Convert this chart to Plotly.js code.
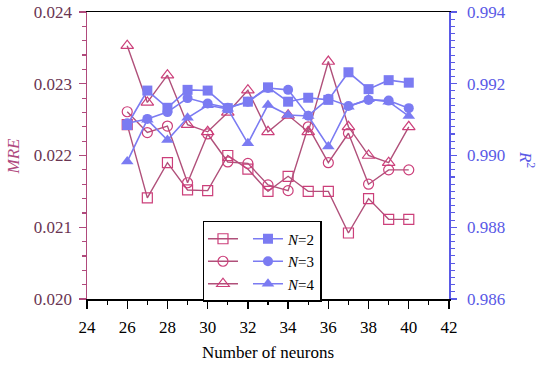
<!DOCTYPE html>
<html>
<head>
<meta charset="utf-8">
<script src="https://cdn.plot.ly/plotly-3.0.1.min.js"></script>
<style>html,body{margin:0;padding:0;background:#fff;}#chart{width:550px;height:366px;}</style>
</head>
<body>
<div id="chart"></div>
<script>
var neurons = [26, 27, 28, 29, 30, 31, 32, 33, 34, 35, 36, 37, 38, 39, 40];

var mreN2 = [0.02243, 0.02141, 0.0219, 0.02152, 0.02151, 0.0220, 0.02181, 0.0215, 0.02171, 0.0215, 0.0215, 0.02092, 0.0214, 0.02111, 0.02111];
var mreN3 = [0.02261, 0.02232, 0.02241, 0.02162, 0.0223, 0.02191, 0.02189, 0.02159, 0.02151, 0.0224, 0.0219, 0.02231, 0.0216, 0.0218, 0.0218];
var mreN4 = [0.02353, 0.02274, 0.02312, 0.02243, 0.02233, 0.0226, 0.02291, 0.02233, 0.02256, 0.02233, 0.02331, 0.0224, 0.0220, 0.0219, 0.0224];

var r2N2 = [0.99085, 0.99181, 0.99133, 0.99183, 0.99181, 0.99132, 0.9915, 0.9919, 0.9915, 0.99161, 0.99155, 0.99232, 0.99185, 0.9921, 0.99203];
var r2N3 = [0.9909, 0.99102, 0.99121, 0.9916, 0.99145, 0.99133, 0.9915, 0.99188, 0.99183, 0.99111, 0.99158, 0.99138, 0.99155, 0.99153, 0.99132];
var r2N4 = [0.98983, 0.991, 0.99043, 0.99105, 0.9914, 0.9913, 0.99034, 0.99141, 0.99113, 0.9911, 0.99025, 0.99136, 0.99157, 0.9915, 0.9911];

var seriesLabels = ['<i>N</i>=2', '<i>N</i>=3', '<i>N</i>=4'];

var pinkLine = '#b0507a';
var pinkMarker = '#cc3f7a';
var blue = '#7b7bf2';
var FONT = 'Liberation Serif, Times New Roman, Times, serif';

var mreSets = [mreN2, mreN3, mreN4];
var r2Sets = [r2N2, r2N3, r2N4];
var openSyms = ['square-open', 'circle-open', 'triangle-up-open'];
var fillSyms = ['square', 'circle', 'triangle-up'];
var sizes = [10, 10, 11];

var traces = [];
for (var i = 0; i < 3; i++) {
  traces.push({
    x: neurons, y: mreSets[i], xaxis: 'x', yaxis: 'y',
    type: 'scatter', mode: 'lines+markers',
    name: '', legendgroup: 'mre',
    line: {color: pinkLine, width: 1.4},
    marker: {symbol: openSyms[i], size: sizes[i], color: pinkMarker, line: {width: 1.2, color: pinkMarker}}
  });
}
for (var j = 0; j < 3; j++) {
  traces.push({
    x: neurons, y: r2Sets[j], xaxis: 'x', yaxis: 'y2',
    type: 'scatter', mode: 'lines+markers',
    name: seriesLabels[j], legendgroup: 'r2',
    line: {color: blue, width: 1.6},
    marker: {symbol: fillSyms[j], size: sizes[j], color: blue}
  });
}

var layout = {
  width: 550, height: 366,
  margin: {l: 87, r: 101, t: 12, b: 67},
  paper_bgcolor: '#fff', plot_bgcolor: '#fff',
  font: {family: FONT, size: 16, color: '#000'},
  showlegend: true,
  legend: {
    orientation: 'h', traceorder: 'grouped', tracegroupgap: 0,
    x: 0.3204, y: 0.2718, xanchor: 'left', yanchor: 'top',
    bgcolor: '#fff', bordercolor: '#000', borderwidth: 1.5,
    font: {family: FONT, size: 15, color: '#000'},
    itemwidth: 30
  },
  xaxis: {
    range: [24, 42], dtick: 2, tick0: 24,
    showgrid: false, zeroline: false,
    showline: true, linecolor: '#000', linewidth: 1.5, mirror: true,
    ticks: 'outside', ticklen: 8, tickwidth: 1.3, tickcolor: '#000',
    ticklabelstandoff: 4,
    minor: {dtick: 1, ticks: 'outside', ticklen: 4, tickwidth: 1.2, tickcolor: '#000', showgrid: false},
    tickfont: {family: FONT, size: 17, color: '#000'},
    title: {text: 'Number of neurons', font: {family: FONT, size: 17, color: '#000'}, standoff: 10}
  },
  yaxis: {
    range: [0.020, 0.024], dtick: 0.001, tickformat: '.3f',
    showgrid: false, zeroline: false,
    showline: true, linecolor: '#b04a7c', linewidth: 1.5,
    ticks: 'outside', ticklen: 7, tickwidth: 1.3, tickcolor: '#b04a7c',
    ticklabelstandoff: 3,
    minor: {dtick: 0.0002, ticks: 'outside', ticklen: 4, tickwidth: 1.2, tickcolor: '#b04a7c', showgrid: false},
    tickfont: {family: FONT, size: 17, color: '#6a3552'}
  },
  yaxis2: {
    overlaying: 'y', side: 'right',
    range: [0.986, 0.994], dtick: 0.002, tickformat: '.3f',
    showgrid: false, zeroline: false,
    showline: true, linecolor: '#5a5ae6', linewidth: 1.5,
    ticks: 'outside', ticklen: 6, tickwidth: 1.3, tickcolor: '#5a5ae6',
    ticklabelstandoff: 7,
    minor: {dtick: 0.0002, ticks: 'outside', ticklen: 4, tickwidth: 1.1, tickcolor: '#5a5ae6', showgrid: false},
    tickfont: {family: FONT, size: 17, color: '#5a5ae6'}
  },
  annotations: [
    {text: '<i>MRE</i>', xref: 'paper', yref: 'paper', x: -0.2017, y: 0.50, textangle: -90,
     showarrow: false, font: {family: FONT, size: 17, color: '#b04a80'}, xanchor: 'center', yanchor: 'middle'},
    {text: '<i>R</i><sup>2</sup>', xref: 'paper', yref: 'paper', x: 1.215, y: 0.485, textangle: 90,
     showarrow: false, font: {family: FONT, size: 17, color: '#5a5ae6'}, xanchor: 'center', yanchor: 'middle'}
  ]
};

Plotly.newPlot('chart', traces, layout, {displayModeBar: false, staticPlot: true});
</script>
</body>
</html>
